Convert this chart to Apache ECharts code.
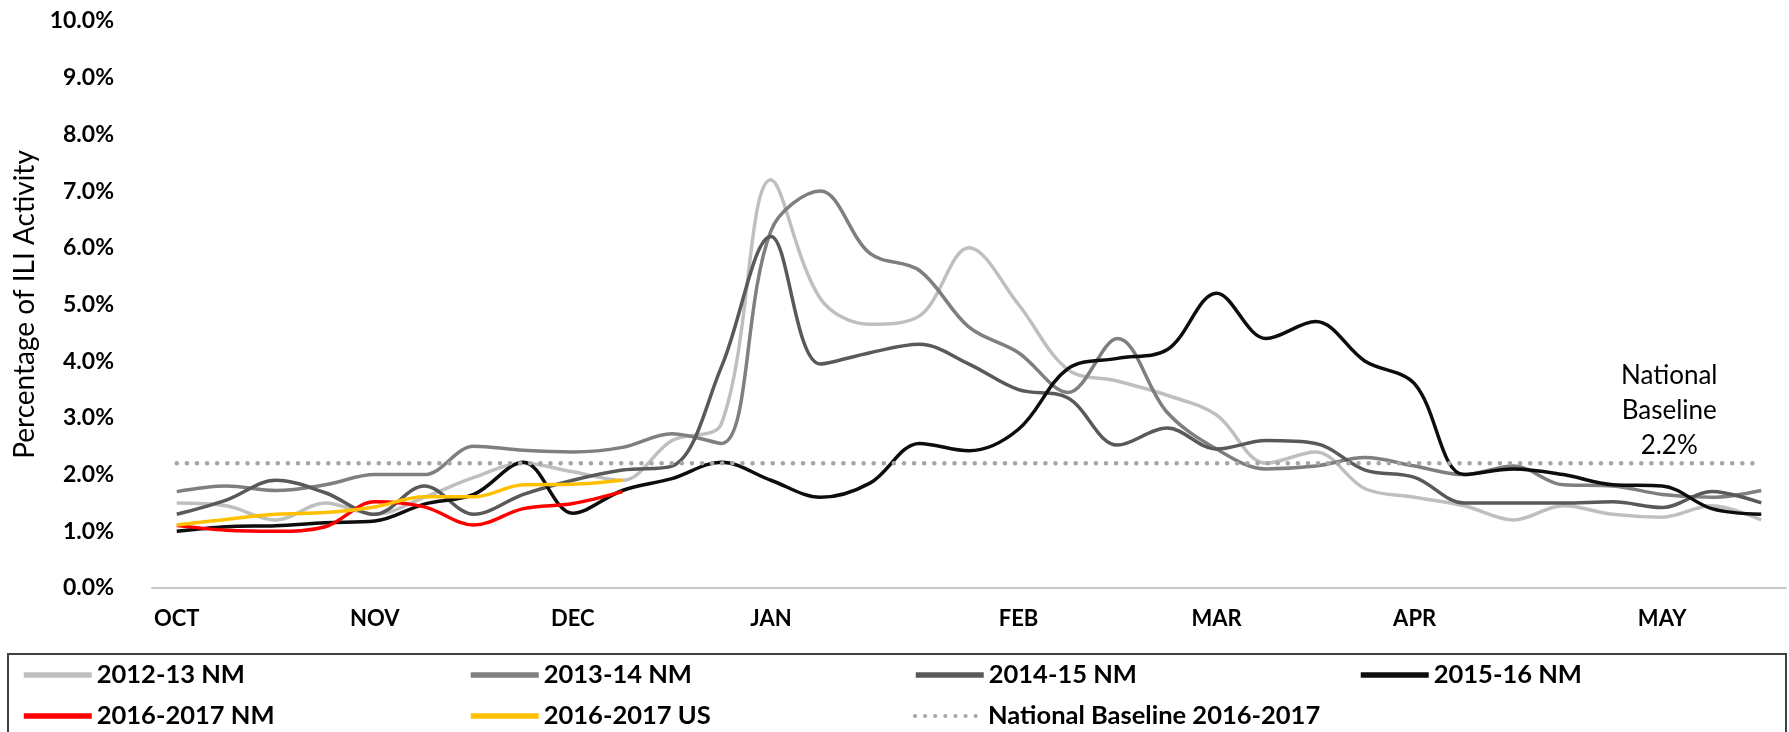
<!DOCTYPE html>
<html>
<head>
<meta charset="utf-8">
<title>ILI Activity</title>
<script src="https://cdn.jsdelivr.net/npm/echarts/dist/echarts.min.js"></script>
<style>
  html, body { margin: 0; padding: 0; background: #fff; }
  #main { width: 1789px; height: 732px; }
</style>
</head>
<body>
<div id="main"></div>
<script>
// weekly categories, only the first week of each month carries a label
const weeks = ['OCT','','','','NOV','','','','DEC','','','','JAN','','','','','FEB','','','','MAR','','','','APR','','','','','MAY','',''];

const nm1213 = [1.5,1.45,1.2,1.5,1.3,1.6,1.95,2.2,2.05,1.9,2.6,2.9,7.2,5.1,4.65,4.8,6.0,5.0,3.85,3.65,3.4,3.05,2.2,2.4,1.75,1.6,1.45,1.2,1.45,1.3,1.25,1.45,1.2];
const nm1314 = [1.7,1.8,1.72,1.82,2.0,2.0,2.5,2.43,2.4,2.48,2.72,2.55,6.3,7.0,5.9,5.6,4.6,4.15,3.45,4.4,3.1,2.45,2.1,2.15,2.3,2.15,2.0,2.15,1.82,1.8,1.65,1.6,1.72];
const nm1415 = [1.3,1.55,1.9,1.68,1.3,1.8,1.3,1.65,1.9,2.08,2.15,3.9,6.2,3.95,4.15,4.3,3.95,3.5,3.35,2.52,2.82,2.45,2.6,2.55,2.08,1.95,1.5,1.5,1.5,1.52,1.42,1.7,1.5];
const nm1516 = [1.0,1.08,1.1,1.15,1.18,1.48,1.65,2.22,1.32,1.72,1.93,2.22,1.9,1.6,1.85,2.55,2.42,2.8,3.87,4.05,4.2,5.2,4.4,4.7,4.0,3.6,2.0,2.1,2.0,1.82,1.8,1.4,1.3];
const nm1617 = [1.1,1.02,1.0,1.08,1.52,1.43,1.11,1.4,1.49,1.7];
const us1617 = [1.11,1.21,1.3,1.33,1.43,1.61,1.61,1.82,1.83,1.9];
const baseline = [2.2,2.2,2.2,2.2,2.2,2.2,2.2,2.2,2.2,2.2,2.2,2.2,2.2,2.2,2.2,2.2,2.2,2.2,2.2,2.2,2.2,2.2,2.2,2.2,2.2,2.2,2.2,2.2,2.2,2.2,2.2,2.2,2.2];

const names = ['2012-13 NM','2013-14 NM','2014-15 NM','2015-16 NM','2016-2017 NM','2016-2017 US','National Baseline 2016-2017'];
const colors = ['#bfbfbf','#7f7f7f','#595959','#0d0d0d','#ff0000','#ffc000','#a6a6a6'];
const values = [nm1213, nm1314, nm1415, nm1516, nm1617, us1617, baseline];

const font = 'Lato';

let chart = echarts.init(document.getElementById('main'));

let series = values.map(function (d, k) {
    let s = {
        name: names[k],
        type: 'line',
        data: d,
        symbol: 'none',
        smooth: 0.35,
        silent: true,
        lineStyle: { color: colors[k], width: 3.5 },
        itemStyle: { color: colors[k] }
    };
    if (k === 6) {
        // dotted national baseline with its note above MAY
        s.smooth = false;
        s.lineStyle = { color: colors[k], width: 4.5, type: [0.1, 10], cap: 'round' };
        s.markPoint = {
            symbol: 'circle',
            symbolSize: 0,
            silent: true,
            data: [{ coord: [30, 2.2] }],
            label: {
                show: true,
                position: 'top',
                distance: 0,
                offset: [7, 0],
                formatter: 'National\nBaseline\n2.2%',
                fontFamily: font,
                fontSize: 26,
                lineHeight: 35,
                color: '#000'
            }
        };
    }
    return s;
});

// legend: 4 columns, 2 rows inside a box
let legendX = [21, 468, 913, 1358];
let legendY = [662, 703];
let legends = names.map(function (n, k) {
    return {
        data: [n],
        left: legendX[k % 4],
        top: legendY[Math.floor(k / 4)],
        padding: 0,
        itemWidth: 68,
        itemHeight: 14,
        selectedMode: false,
        itemStyle: { opacity: 0 },
        lineStyle: { width: k === 6 ? 4 : 5.5 },
        textStyle: { fontFamily: font, fontWeight: 'bold', fontSize: 25.5, color: '#000' }
    };
});

let option = {
    animation: false,
    backgroundColor: '#fff',
    grid: { left: 152, right: 3, top: 21, bottom: 144 },
    xAxis: {
        type: 'category',
        data: weeks,
        boundaryGap: true,
        axisLine: { lineStyle: { color: '#c8c8c8', width: 2 } },
        axisTick: { show: false },
        axisLabel: {
            interval: 0,
            margin: 20,
            fontFamily: font,
            fontWeight: 'bold',
            fontSize: 22,
            color: '#000'
        },
        splitLine: { show: false }
    },
    yAxis: {
        type: 'value',
        min: 0,
        max: 10,
        interval: 1,
        name: 'Percentage of ILI Activity',
        nameLocation: 'middle',
        nameRotate: 90,
        nameGap: 110,
        nameTextStyle: { fontFamily: font, fontSize: 28, color: '#000' },
        axisLine: { show: false },
        axisTick: { show: false },
        splitLine: { show: false },
        axisLabel: {
            margin: 38,
            fontFamily: font,
            fontWeight: 'bold',
            fontSize: 23,
            color: '#000',
            formatter: function (v) { return v.toFixed(1) + '%'; }
        }
    },
    legend: legends,
    graphic: [{
        type: 'rect',
        silent: true,
        shape: { x: 8, y: 654, width: 1778, height: 90 },
        style: { fill: 'none', stroke: '#404040', lineWidth: 2 }
    }],
    series: series
};

chart.setOption(option);
</script>
</body>
</html>
